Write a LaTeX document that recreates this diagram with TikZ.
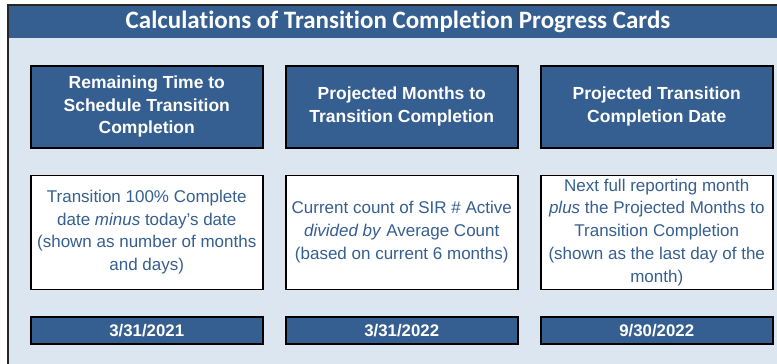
\documentclass[tikz,border=0pt]{standalone}
\usepackage{fontspec}
\setmainfont{Liberation Sans}
\newfontfamily\titlefont[RawFeature=-liga]{Carlito}
\usepackage{xcolor}
\usetikzlibrary{positioning}
\definecolor{cardblue}{HTML}{365F91}
\definecolor{panelblue}{HTML}{DCE6F1}

\begin{document}
\begin{tikzpicture}[
            x=1pt,y=1pt,
            headcard/.style={rectangle,draw=black,line width=1.5pt,fill=cardblue,text=white,align=center,
                minimum width=232pt,minimum height=82pt,inner sep=0pt,font=\fontsize{17.5}{22.7}\selectfont\bfseries},
            calccard/.style={rectangle,draw=black,line width=1.5pt,fill=white,text=cardblue,align=center,
                minimum width=232pt,minimum height=114pt,inner sep=0pt,font=\fontsize{17}{22.7}\selectfont},
            datecard/.style={rectangle,draw=black,line width=1.5pt,fill=cardblue,text=white,align=center,
                minimum width=232pt,minimum height=27pt,inner sep=0pt,font=\fontsize{16.8}{20}\selectfont\bfseries}
        ]
        \useasboundingbox (0,0) rectangle (777,-364);
        % panel and title bar
        \fill[panelblue] (8,-37.5) rectangle (777,-364);
        \fill[cardblue] (8,-5) rectangle (777,-37.5);
        \draw[line width=1.3pt,black!85] (8,-364) -- (8,-5) -- (777,-5);
        \node[text=white,font=\titlefont\fontsize{25}{28}\selectfont\bfseries] (title) at (398,-21.5)
        {Calculations of Transition Completion Progress Cards};
        % headings
        \node[headcard,anchor=north west] (head1) at (30,-65) {Remaining Time to\\Schedule Transition\\Completion};
        \node[headcard,right=21.5pt of head1] (head2) {Projected Months to\\Transition Completion};
        \node[headcard,right=21.5pt of head2] (head3) {Projected Transition\\Completion Date};
        % calculations
        \node[calccard,below=26pt of head1] (calc1) {Transition 100\% Complete\\date \textit{minus}\ today's date\\(shown as number of months\\and days)};
        \node[calccard,below=26pt of head2] (calc2) {Current count of SIR \# Active\\\textit{divided by}\ Average Count\\(based on current 6 months)};
        \node[calccard,below=26pt of head3] (calc3) {Next full reporting month\\\textit{plus}\ the Projected Months to\\Transition Completion\\(shown as the last day of the\\month)};
        % dates
        \node[datecard,below=26pt of calc1] (date1) {3/31/2021};
        \node[datecard,below=26pt of calc2] (date2) {3/31/2022};
        \node[datecard,below=26pt of calc3] (date3) {9/30/2022};
    \end{tikzpicture}
\end{document}
